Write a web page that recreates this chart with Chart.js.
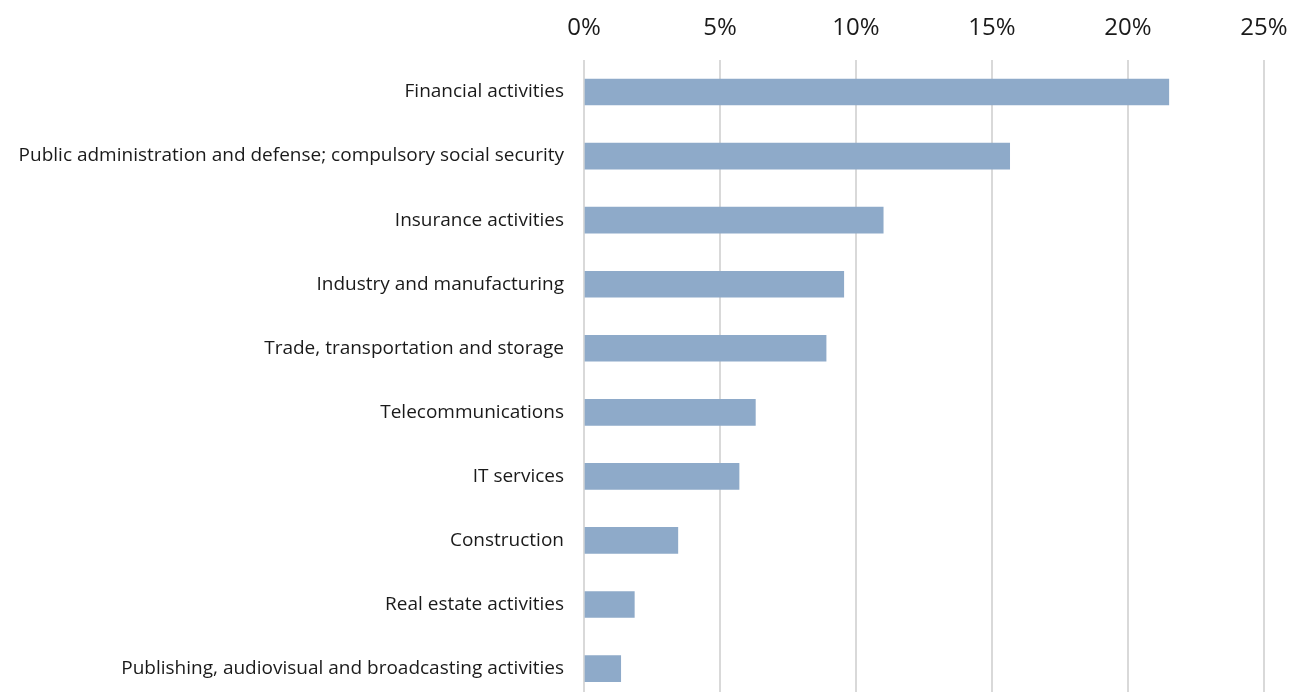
<!DOCTYPE html>
<html lang="en">
<head>
  <meta charset="UTF-8" />
  <title>Share by sector</title>
  <script src="https://cdn.jsdelivr.net/npm/chart.js"></script>
  <style>
    * {
      margin: 0;
      padding: 0;
      box-sizing: border-box;
    }

    body {
      background: #fff;
      overflow: hidden;
    }

    .wrap {
      position: relative;
      width: 1306px;
      height: 732px;
    }
  </style>
</head>
<body>
  <div class="wrap">
    <canvas id="barChart"></canvas>
  </div>

  <script>
    const sectors = [
      'Financial activities',
      'Public administration and defense; compulsory social security',
      'Insurance activities',
      'Industry and manufacturing',
      'Trade, transportation and storage',
      'Telecommunications',
      'IT services',
      'Construction',
      'Real estate activities',
      'Publishing, audiovisual and broadcasting activities'
    ];
    const shares = [21.5, 15.65, 11.0, 9.55, 8.9, 6.3, 5.7, 3.45, 1.85, 1.35];
    const tickValues = [0, 5, 10, 15, 20, 25];

    const ctx = document.getElementById('barChart').getContext('2d');
    new Chart(ctx, {
      type: 'bar',
      data: {
        labels: sectors,
        datasets: [{
          data: shares,
          backgroundColor: '#8eaac9',
          barThickness: 26
        }]
      },
      options: {
        indexAxis: 'y',
        responsive: true,
        maintainAspectRatio: false,
        animation: false,
        layout: { padding: { left: 0, right: 42, top: 0, bottom: 0 } },
        plugins: {
          legend: { display: false },
          tooltip: { enabled: false }
        },
        scales: {
          x: {
            position: 'top',
            min: 0,
            max: 25,
            afterBuildTicks: (scale) => {
              scale.ticks = tickValues.map(v => ({ value: v }));
            },
            afterFit: (scale) => { scale.height = 60; },
            grid: {
              color: '#d9d9d9',
              lineWidth: 2,
              drawTicks: false
            },
            border: { display: false },
            ticks: {
              padding: 17,
              color: '#1a1a1a',
              font: { family: 'Open Sans', size: 24 },
              callback: (v) => v + '%'
            }
          },
          y: {
            afterFit: (scale) => { scale.width = 584; },
            grid: { display: false, drawTicks: false },
            border: { display: false },
            ticks: {
              padding: 20,
              color: '#1a1a1a',
              font: { family: 'Open Sans', size: 19 }
            }
          }
        }
      }
    });
  </script>
</body>
</html>
